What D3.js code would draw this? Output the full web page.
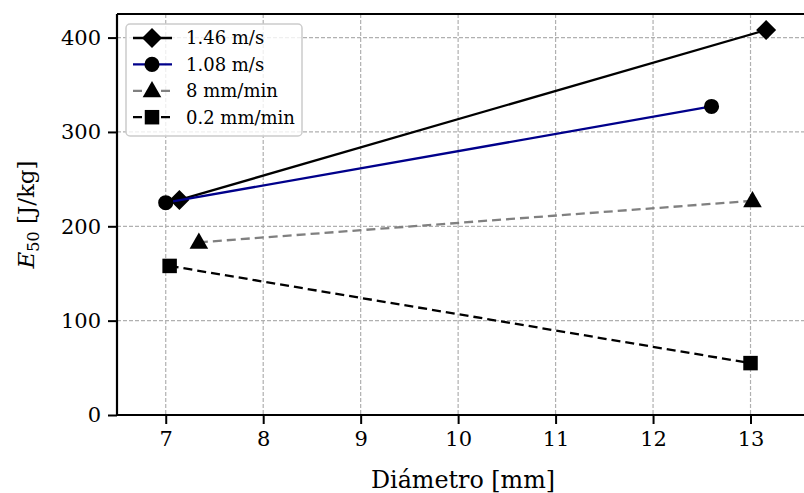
<!DOCTYPE html>
<html>
<head>
<meta charset="utf-8">
<script src="https://cdn.jsdelivr.net/npm/d3@7"></script>
<style>
  html, body { margin: 0; padding: 0; background: #fff; }
  svg { display: block; }
  text { font-family: "DejaVu Serif", serif; fill: #000; }
</style>
</head>
<body>
<svg id="chart" width="804" height="493"></svg>
<script>
// Diameter (mm) and E50 (J/kg) for each loading condition
const labels = ["1.46 m/s", "1.08 m/s", "8 mm/min", "0.2 mm/min"];
const diam146 = [7.14, 13.16];
const e146 = [228, 408];
const diam108 = [7.0, 12.6];
const e108 = [225, 327];
const diam8 = [7.34, 13.02];
const e8 = [183, 227];
const diam02 = [7.04, 13.0];
const e02 = [158, 55];
const xTicks = [7, 8, 9, 10, 11, 12, 13];
const yTicks = [0, 100, 200, 300, 400];

const series = [
  { label: labels[0], x: diam146, y: e146, color: "#000000", dash: null, marker: "diamond" },
  { label: labels[1], x: diam108, y: e108, color: "#00008b", dash: null, marker: "circle" },
  { label: labels[2], x: diam8, y: e8, color: "#808080", dash: "9,5", marker: "triangle" },
  { label: labels[3], x: diam02, y: e02, color: "#000000", dash: "9,5", marker: "square" }
];

const svg = d3.select("#chart");
const m = { left: 117, top: 14, right: 809, bottom: 415 };

const x = d3.scaleLinear().domain([6.5, 13.6]).range([m.left, m.right]);
const y = d3.scaleLinear().domain([0, 425]).range([m.bottom, m.top]);

// grid
const grid = svg.append("g");
grid.selectAll("line.gx").data(xTicks).join("line")
  .attr("x1", d => x(d)).attr("x2", d => x(d))
  .attr("y1", m.top).attr("y2", m.bottom)
  .attr("stroke", "#b0b0b0").attr("stroke-width", 1.2).attr("stroke-dasharray", "4,2");
grid.selectAll("line.gy").data(yTicks).join("line")
  .attr("x1", m.left).attr("x2", m.right)
  .attr("y1", d => y(d)).attr("y2", d => y(d))
  .attr("stroke", "#b0b0b0").attr("stroke-width", 1.2).attr("stroke-dasharray", "4,2");

// markers
const symbolFor = {
  diamond: d3.symbol().type(d3.symbolSquare).size(200),
  circle: d3.symbol().type(d3.symbolCircle).size(180),
  triangle: d3.symbol().type(d3.symbolTriangle).size(150),
  square: d3.symbol().type(d3.symbolSquare).size(210)
};
function drawMarker(g, kind, cx, cy) {
  const p = g.append("path")
    .attr("d", symbolFor[kind]())
    .attr("fill", "#000");
  if (kind === "diamond") p.attr("transform", `translate(${cx},${cy}) rotate(45)`);
  else if (kind === "triangle") p.attr("transform", `translate(${cx},${cy + 1})`);
  else p.attr("transform", `translate(${cx},${cy})`);
}

const line = d3.line().x(d => x(d[0])).y(d => y(d[1]));
const plot = svg.append("g");
series.forEach(s => {
  const pts = s.x.map((v, i) => [v, s.y[i]]);
  const g = plot.append("g");
  g.append("path").attr("d", line(pts))
    .attr("fill", "none").attr("stroke", s.color).attr("stroke-width", 2.3)
    .attr("stroke-dasharray", s.dash);
  pts.forEach(p => drawMarker(g, s.marker, x(p[0]), y(p[1])));
});

// axes
const xAxis = svg.append("g").attr("transform", `translate(0,${m.bottom})`)
  .call(d3.axisBottom(x).tickValues(xTicks).tickFormat(d3.format("d")).tickSize(9).tickPadding(7));
const yAxis = svg.append("g").attr("transform", `translate(${m.left},0)`)
  .call(d3.axisLeft(y).tickValues(yTicks).tickFormat(d3.format("d")).tickSize(9).tickPadding(7));
[xAxis, yAxis].forEach(a => {
  a.selectAll("text").style("font-family", "DejaVu Serif").style("font-size", "21px");
  a.selectAll(".tick line").attr("stroke", "#000").attr("stroke-width", 2);
  a.select(".domain").remove();
});

// spines
svg.append("line").attr("x1", m.left).attr("x2", m.left).attr("y1", m.top).attr("y2", m.bottom)
  .attr("stroke", "#000").attr("stroke-width", 2.2);
svg.append("line").attr("x1", m.left).attr("x2", m.right).attr("y1", m.bottom).attr("y2", m.bottom)
  .attr("stroke", "#000").attr("stroke-width", 2.2);
svg.append("line").attr("x1", m.left).attr("x2", m.right).attr("y1", m.top).attr("y2", m.top)
  .attr("stroke", "#000").attr("stroke-width", 2.2);
svg.append("line").attr("x1", m.right).attr("x2", m.right).attr("y1", m.top).attr("y2", m.bottom)
  .attr("stroke", "#000").attr("stroke-width", 2.2);

// axis titles
svg.append("text")
  .attr("x", (m.left + m.right) / 2).attr("y", 488)
  .attr("text-anchor", "middle").style("font-size", "23.8px")
  .text("Diámetro [mm]");
const yl = svg.append("text")
  .attr("transform", `translate(33.5,${(m.top + m.bottom) / 2}) rotate(-90)`)
  .attr("text-anchor", "middle").style("font-size", "23px");
yl.append("tspan").style("font-style", "italic").text("E");
yl.append("tspan").attr("dy", 5).style("font-size", "16px").text("50");
yl.append("tspan").attr("dy", -5).text(" [J/kg]");

// legend
const lg = svg.append("g").attr("transform", "translate(126,24)");
lg.append("rect").attr("x", 0).attr("y", 0).attr("width", 176).attr("height", 112)
  .attr("rx", 4).attr("fill", "#fff").attr("fill-opacity", 0.8)
  .attr("stroke", "#cccccc").attr("stroke-width", 1.5);
series.forEach((s, i) => {
  const cy = 14 + i * 26.4;
  const row = lg.append("g");
  row.append("line").attr("x1", 7).attr("x2", 46).attr("y1", cy).attr("y2", cy)
    .attr("stroke", s.color).attr("stroke-width", 2.3)
    .attr("stroke-dasharray", s.dash);
  drawMarker(row, s.marker, 26, cy);
  row.append("text").attr("x", 60).attr("y", cy).attr("dy", "0.35em")
    .style("font-size", "18px").text(s.label);
});
</script>
</body>
</html>
